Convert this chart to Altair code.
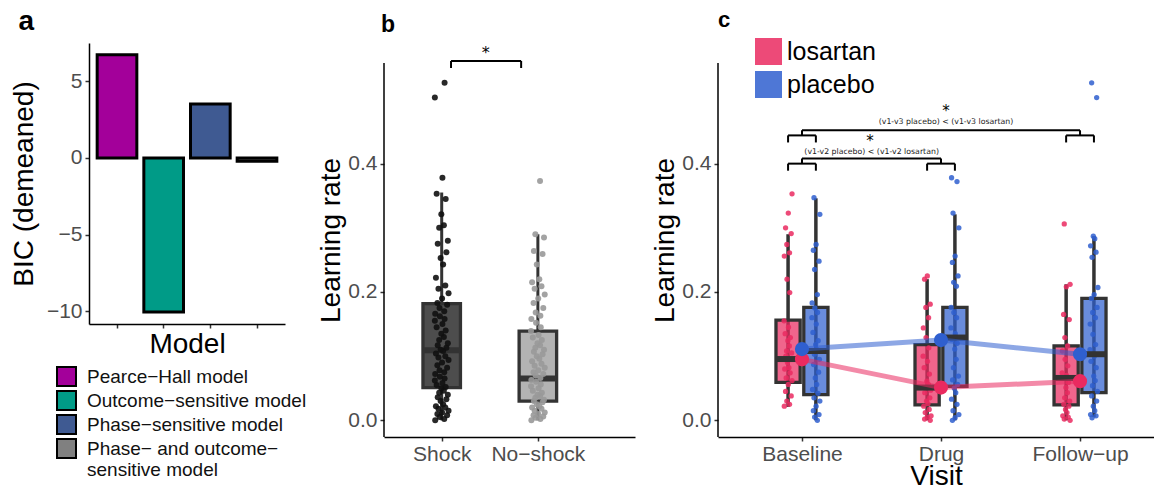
import json
import altair as alt
import pandas as pd

FONT = "Liberation Sans"

# ---------------- panel a data ----------------
models = ["Pearce−Hall model", "Outcome−sensitive model", "Phase−sensitive model",
          "Phase− and outcome−sensitive model"]
bic_values = [6.74, -10.05, 3.52, -0.21]
model_colors = ["#A3009A", "#009B87", "#3F5A92", "#808080"]

# ---------------- panel b data ----------------
conditions = ["Shock", "No−shock"]
shock_rates = [0.0, 0.002, 0.005, 0.008, 0.01, 0.012, 0.015, 0.018, 0.02, 0.022, 0.025, 0.03,
               0.033, 0.036, 0.04, 0.043, 0.046, 0.05, 0.052, 0.055, 0.058, 0.062, 0.065, 0.068,
               0.072, 0.075, 0.078, 0.082, 0.086, 0.09, 0.094, 0.098, 0.1, 0.104, 0.108, 0.11,
               0.113, 0.117, 0.12, 0.125, 0.13, 0.135, 0.14, 0.145, 0.15, 0.155, 0.158, 0.162,
               0.166, 0.17, 0.175, 0.18, 0.183, 0.19, 0.198, 0.205, 0.21, 0.222, 0.243, 0.253,
               0.262, 0.275, 0.28, 0.3, 0.304, 0.321, 0.345, 0.353, 0.378, 0.503, 0.526]
noshock_rates = [0.0, 0.002, 0.004, 0.006, 0.008, 0.01, 0.012, 0.015, 0.018, 0.02, 0.022, 0.025,
                 0.028, 0.03, 0.032, 0.035, 0.038, 0.04, 0.043, 0.046, 0.05, 0.053, 0.056, 0.06,
                 0.063, 0.066, 0.07, 0.072, 0.075, 0.078, 0.082, 0.085, 0.088, 0.092, 0.096, 0.1,
                 0.103, 0.107, 0.11, 0.113, 0.117, 0.12, 0.125, 0.129, 0.133, 0.139, 0.145, 0.152,
                 0.158, 0.163, 0.168, 0.175, 0.183, 0.19, 0.196, 0.205, 0.209, 0.215, 0.22, 0.243,
                 0.259, 0.264, 0.285, 0.29, 0.373]
cond_low = [0.0, 0.0]
cond_q1 = [0.051, 0.030]
cond_median = [0.109, 0.065]
cond_q3 = [0.182, 0.139]
cond_high = [0.355, 0.290]
cond_box_colors = ["#4D4D4D", "#B3B3B3"]
cond_point_colors = ["#111111", "#999999"]
b_star_text = "*"

# ---------------- panel c data ----------------
visits = ["Baseline", "Drug", "Follow−up"]
drug_groups = ["losartan", "placebo"]
group_colors = ["#EA2A60", "#2F5FCF"]

los_baseline = [0.022, 0.025, 0.03, 0.038, 0.045, 0.056, 0.062, 0.066, 0.074, 0.08, 0.082, 0.09,
                0.095, 0.1, 0.105, 0.108, 0.116, 0.124, 0.129, 0.135, 0.145, 0.155, 0.199, 0.22,
                0.256, 0.261, 0.274, 0.291, 0.30, 0.323, 0.353]
pla_baseline = [0.0, 0.005, 0.009, 0.015, 0.022, 0.03, 0.035, 0.042, 0.048, 0.056, 0.066, 0.075,
                0.087, 0.095, 0.103, 0.11, 0.118, 0.124, 0.137, 0.15, 0.16, 0.168, 0.175, 0.183,
                0.196, 0.235, 0.248, 0.265, 0.274, 0.321, 0.347]
los_drug = [0.0, 0.002, 0.005, 0.007, 0.012, 0.017, 0.022, 0.026, 0.03, 0.035, 0.043, 0.047,
            0.051, 0.056, 0.061, 0.072, 0.082, 0.092, 0.1, 0.113, 0.129, 0.144, 0.16, 0.176,
            0.181, 0.22, 0.225]
pla_drug = [0.0, 0.004, 0.009, 0.015, 0.025, 0.033, 0.043, 0.05, 0.056, 0.063, 0.069, 0.082,
            0.095, 0.111, 0.12, 0.126, 0.135, 0.144, 0.16, 0.168, 0.176, 0.209, 0.215, 0.225,
            0.246, 0.256, 0.3, 0.323, 0.372, 0.378]
los_followup = [0.0, 0.002, 0.005, 0.007, 0.012, 0.017, 0.022, 0.025, 0.03, 0.035, 0.043, 0.051,
                0.059, 0.066, 0.07, 0.074, 0.085, 0.095, 0.108, 0.116, 0.129, 0.157, 0.165,
                0.208, 0.212, 0.306]
pla_followup = [0.004, 0.007, 0.009, 0.015, 0.022, 0.03, 0.038, 0.045, 0.054, 0.062, 0.069, 0.082,
                0.092, 0.1, 0.11, 0.118, 0.134, 0.15, 0.16, 0.168, 0.176, 0.19, 0.196, 0.207,
                0.254, 0.262, 0.272, 0.283, 0.287, 0.503, 0.526]

los_low = [0.021, 0.0, 0.0]
los_q1 = [0.059, 0.024, 0.024]
los_median = [0.0955, 0.051, 0.066]
los_q3 = [0.156, 0.118, 0.116]
los_high = [0.29, 0.22, 0.212]
pla_low = [0.0, 0.0, 0.005]
pla_q1 = [0.040, 0.053, 0.043]
pla_median = [0.108, 0.129, 0.103]
pla_q3 = [0.176, 0.176, 0.19]
pla_high = [0.346, 0.321, 0.287]
los_mean = [0.095, 0.051, 0.061]
pla_mean = [0.111, 0.125, 0.103]

comparison_labels = ["(v1-v3 placebo) < (v1-v3 losartan)", "(v1-v2 placebo) < (v1-v2 losartan)"]
comparison_from = [0, 0]
comparison_to = [2, 1]
comparison_bar = [0.452, 0.408]
comparison_arm = [0.444, 0.400]
comparison_leg = [0.433, 0.389]
comparison_text_y = [0.465, 0.418]
comparison_text_x = [1.036, 0.501]
comparison_star_y = [0.482, 0.436]
comparison_star_x = [1.036, 0.489]

# ---------------- styling constants ----------------
JIT = [-0.9, 0.35, -0.3, 0.75, -0.6, 0.05, 0.95, -0.45, 0.5, -0.8, 0.2, -0.15, 0.65, -0.55,
       0.85, -0.35, 0.3, -0.05, 0.55, -0.7, 0.1, -0.95, 0.4, -0.25]


def jit(i):
    return JIT[i % len(JIT)]


BOX_STROKE = "#333333"

# ======================= panel a =======================
WA, HA = 196, 281
df_a = pd.DataFrame({"model": models, "bic": bic_values})
split_label = json.dumps(["Phase− and outcome−", "sensitive model"], ensure_ascii=False)
label_expr_a = f"datum.label == {json.dumps(models[3], ensure_ascii=False)} ? {split_label} : datum.label"

panel_a = alt.Chart(df_a).mark_bar(stroke="black", strokeWidth=3).encode(
    x=alt.X("model:N", sort=models,
            scale=alt.Scale(paddingInner=0.15, paddingOuter=0.175),
            axis=alt.Axis(labels=False, title="Model", titlePadding=2)),
    y=alt.Y("bic:Q", scale=alt.Scale(domain=[-10.83, 7.5], nice=False, zero=False),
            axis=alt.Axis(values=[-10, -5, 0, 5], format="d", title="BIC (demeaned)",
                          titlePadding=8, labelPadding=3)),
    fill=alt.Fill("model:N", sort=models,
                  scale=alt.Scale(domain=models, range=model_colors),
                  legend=alt.Legend(orient="none", legendX=-33, legendY=323, title=None,
                                    symbolType="square", symbolSize=361,
                                    symbolStrokeColor="black", symbolStrokeWidth=2,
                                    labelFontSize=19, labelColor="#111111", labelLimit=400,
                                    labelOffset=10, rowPadding=-5, padding=0,
                                    labelExpr=label_expr_a)),
).properties(width=WA, height=HA,
             title=alt.TitleParams("a", frame="bounds", anchor="start", fontSize=28, dx=8, offset=7))

# ======================= panel b =======================
WB, HB = 251, 394
Y_DOM = [-0.026, 0.588]
AXIS_TOP = 0.557
xs_b = alt.Scale(domain=[-0.6, 2.01], nice=False, zero=False)
ys_b = alt.Scale(domain=Y_DOM, nice=False, zero=False)
x_axis_b = alt.Axis(values=[0, 1], title=None, labelPadding=2,
                    labelExpr=f"{json.dumps(conditions, ensure_ascii=False)}[datum.value]")
y_axis_lr = alt.Axis(values=[0, 0.2, 0.4], format=".1f", title="Learning rate", domain=False,
                     titlePadding=2, labelPadding=3)

HW_B = 0.195
stats_b = pd.DataFrame({
    "cond": conditions, "pos": list(range(len(conditions))),
    "lo": cond_low, "q1": cond_q1, "med": cond_median, "q3": cond_q3, "hi": cond_high,
})
stats_b["xl"] = stats_b["pos"] - HW_B
stats_b["xr"] = stats_b["pos"] + HW_B

rows = []
for ci, vals in enumerate([shock_rates, noshock_rates]):
    for i, v in enumerate(vals):
        rows.append({"cond": conditions[ci], "val": v, "xj": ci + 0.075 * jit(i)})
pts_b = pd.DataFrame(rows)


def XB(f):
    return alt.X(f, scale=xs_b, axis=x_axis_b)


def YB(f):
    return alt.Y(f, scale=ys_b, axis=y_axis_lr)


whisk_b = alt.Chart(stats_b).mark_rule(color=BOX_STROKE, strokeWidth=3).encode(
    x=XB("pos:Q"), y=YB("lo:Q"), y2="hi:Q")
box_b = alt.Chart(stats_b).mark_rect(stroke=BOX_STROKE, strokeWidth=3.3).encode(
    x=XB("xl:Q"), x2="xr:Q", y=YB("q1:Q"), y2="q3:Q",
    fill=alt.Fill("cond:N", scale=alt.Scale(domain=conditions, range=cond_box_colors), legend=None))
med_b = alt.Chart(stats_b).mark_rule(color=BOX_STROKE, strokeWidth=6).encode(
    x=XB("xl:Q"), x2="xr:Q", y=YB("med:Q"))
pts_layer_b = alt.Chart(pts_b).mark_circle(size=36, opacity=0.9).encode(
    x=XB("xj:Q"), y=YB("val:Q"),
    color=alt.Color("cond:N", scale=alt.Scale(domain=conditions, range=cond_point_colors), legend=None))

br_b = pd.DataFrame({
    "x": [0.097, 0.097, 0.826], "x2": [0.826, 0.097, 0.826],
    "y": [0.560, 0.560, 0.560], "y2": [0.560, 0.549, 0.549],
})
bracket_b = alt.Chart(br_b).mark_rule(color="black", strokeWidth=2).encode(
    x=XB("x:Q"), x2="x2:Q", y=YB("y:Q"), y2="y2:Q")
star_b = alt.Chart(pd.DataFrame({"x": [0.458], "y": [0.5725], "t": [b_star_text]})).mark_text(
    font="DejaVu Sans", fontSize=16, baseline="middle", color="black").encode(
    x=XB("x:Q"), y=YB("y:Q"), text="t:N")
yline_b = alt.Chart(pd.DataFrame({"top": [AXIS_TOP]})).mark_rule(color="black", strokeWidth=1.5).encode(
    x=alt.value(0), y=YB("top:Q"), y2=alt.value(HB))

panel_b = alt.layer(yline_b, whisk_b, box_b, med_b, pts_layer_b, bracket_b, star_b).resolve_scale(
    fill="independent", color="independent"
).properties(width=WB, height=HB,
             title=alt.TitleParams("b", frame="group", anchor="start", fontSize=23, dx=-3, offset=6))

# ======================= panel c =======================
WC, HC = 436, 394
xs_c = alt.Scale(domain=[-0.604, 2.532], nice=False, zero=False)
x_axis_c = alt.Axis(values=[0, 1, 2], title="Visit", labelPadding=2, titlePadding=-2,
                    labelExpr=f"{json.dumps(visits, ensure_ascii=False)}[datum.value]")
DODGE = 0.1
HW_C = 0.087

stat_rows = []
for gi, (g, lo, q1, md, q3, hi) in enumerate([
        ("losartan", los_low, los_q1, los_median, los_q3, los_high),
        ("placebo", pla_low, pla_q1, pla_median, pla_q3, pla_high)]):
    for vi, v in enumerate(visits):
        pos = vi + (DODGE if gi else -DODGE)
        stat_rows.append({"visit": v, "group": g, "pos": pos, "lo": lo[vi], "q1": q1[vi],
                          "med": md[vi], "q3": q3[vi], "hi": hi[vi],
                          "xl": pos - HW_C, "xr": pos + HW_C})
stats_c = pd.DataFrame(stat_rows)

pt_rows = []
groups_pts = {"losartan": [los_baseline, los_drug, los_followup],
              "placebo": [pla_baseline, pla_drug, pla_followup]}
for gi, g in enumerate(drug_groups):
    for vi, vals in enumerate(groups_pts[g]):
        for i, val in enumerate(vals):
            pt_rows.append({"group": g, "visit": visits[vi], "val": val,
                            "xj": vi + (DODGE if gi else -DODGE) + 0.03 * jit(i + 3 * vi + gi)})
pts_c = pd.DataFrame(pt_rows)

mean_rows = []
for gi, (g, means) in enumerate([("losartan", los_mean), ("placebo", pla_mean)]):
    for vi, v in enumerate(visits):
        mean_rows.append({"group": g, "visit": v, "vpos": vi, "mean": means[vi]})
means_c = pd.DataFrame(mean_rows)

seg_rows = []
for k in range(len(comparison_labels)):
    a, b = comparison_from[k], comparison_to[k]
    bar, arm, leg = comparison_bar[k], comparison_arm[k], comparison_leg[k]
    seg_rows.append({"x": a, "x2": b, "y": bar, "y2": bar})
    for v in (a, b):
        seg_rows.append({"x": v, "x2": v, "y": arm, "y2": bar})
        seg_rows.append({"x": v - DODGE, "x2": v + DODGE, "y": arm, "y2": arm})
        seg_rows.append({"x": v - DODGE, "x2": v - DODGE, "y": arm, "y2": leg})
        seg_rows.append({"x": v + DODGE, "x2": v + DODGE, "y": arm, "y2": leg})
segs_c = pd.DataFrame(seg_rows)
texts_c = pd.DataFrame({"x": comparison_text_x, "y": comparison_text_y, "t": comparison_labels})
stars_c = pd.DataFrame({"x": comparison_star_x, "y": comparison_star_y, "t": ["*", "*"]})


def XC(f):
    return alt.X(f, scale=xs_c, axis=x_axis_c)


def YC(f):
    return alt.Y(f, scale=ys_b, axis=y_axis_lr)


color_c = alt.Scale(domain=drug_groups, range=group_colors)

yline_c = alt.Chart(pd.DataFrame({"top": [AXIS_TOP]})).mark_rule(color="black", strokeWidth=1.5).encode(
    x=alt.value(0), y=YC("top:Q"), y2=alt.value(HC))
whisk_c = alt.Chart(stats_c).mark_rule(color=BOX_STROKE, strokeWidth=3.5).encode(
    x=XC("pos:Q"), y=YC("lo:Q"), y2="hi:Q")
box_c = alt.Chart(stats_c).mark_rect(stroke=BOX_STROKE, strokeWidth=3.3, fillOpacity=0.72).encode(
    x=XC("xl:Q"), x2="xr:Q", y=YC("q1:Q"), y2="q3:Q",
    fill=alt.Fill("group:N", scale=color_c,
                  legend=alt.Legend(orient="none", legendX=37, legendY=-5, title=None,
                                    symbolType="square", symbolSize=729, symbolStrokeWidth=0,
                                    symbolOpacity=0.85, labelFontSize=25, labelColor="black",
                                    labelOffset=5, rowPadding=6, padding=0)))
pts_layer_c = alt.Chart(pts_c).mark_circle(size=28, opacity=0.85).encode(
    x=XC("xj:Q"), y=YC("val:Q"), color=alt.Color("group:N", scale=color_c, legend=None))
med_c = alt.Chart(stats_c).mark_rule(color=BOX_STROKE, strokeWidth=6).encode(
    x=XC("xl:Q"), x2="xr:Q", y=YC("med:Q"))
mline_c = alt.Chart(means_c).mark_line(strokeWidth=5, opacity=0.55).encode(
    x=XC("vpos:Q"), y=YC("mean:Q"), color=alt.Color("group:N", scale=color_c, legend=None))
mdot_c = alt.Chart(means_c).mark_circle(size=200, opacity=1).encode(
    x=XC("vpos:Q"), y=YC("mean:Q"), color=alt.Color("group:N", scale=color_c, legend=None))
segs_layer_c = alt.Chart(segs_c).mark_rule(color="black", strokeWidth=2).encode(
    x=XC("x:Q"), x2="x2:Q", y=YC("y:Q"), y2="y2:Q")
text_layer_c = alt.Chart(texts_c).mark_text(font="DejaVu Sans", fontSize=7.8, color="#222222",
                                            baseline="middle").encode(
    x=XC("x:Q"), y=YC("y:Q"), text="t:N")
star_layer_c = alt.Chart(stars_c).mark_text(font="DejaVu Sans", fontSize=15, color="black",
                                            baseline="middle").encode(
    x=XC("x:Q"), y=YC("y:Q"), text="t:N")

panel_c = alt.layer(yline_c, whisk_c, box_c, pts_layer_c, med_c, mline_c, mdot_c,
                    segs_layer_c, text_layer_c, star_layer_c).resolve_scale(
    fill="independent", color="independent"
).properties(width=WC, height=HC,
             title=alt.TitleParams("c", frame="group", anchor="start", fontSize=22, dx=0, offset=6))

chart = alt.hconcat(panel_a, alt.hconcat(panel_b, panel_c, spacing=16), spacing=32).properties(
    padding={"left": 2, "top": 0, "right": 0, "bottom": 0}
).configure_view(stroke=None).configure_axis(
    labelFont=FONT, titleFont=FONT, grid=False, domainColor="black", domainWidth=1.5,
    tickColor="#333333", tickWidth=1.5, tickSize=4, labelColor="#4D4D4D", labelFontSize=21,
    titleFontSize=28, titleColor="black", titleFontWeight="normal"
).configure_legend(labelFont=FONT).configure_title(font=FONT, fontWeight="bold", color="black")

chart.save("out.html", embed_options={"renderer": "svg", "actions": False})
